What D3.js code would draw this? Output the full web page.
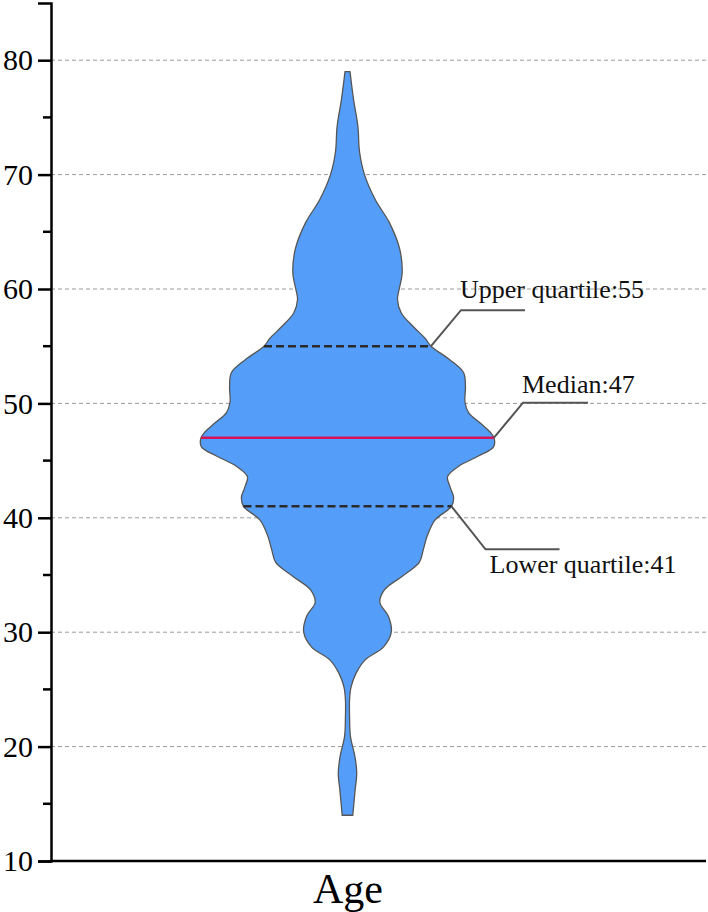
<!DOCTYPE html>
<html lang="en">
  <head>
    <meta charset="utf-8">
    <script type="text/javascript" src="https://d3js.org/d3.v7.min.js"></script>
    <style>
      body { margin: 0; background: white; }
      text { font-family: "Liberation Serif", "Times New Roman", serif; }
    </style>
  </head>
  <body>
    <script type="text/javascript">

    // Data: kernel density of age (relative, max = 1)
    var category = ["Age"];
    var ages = [79, 76.6, 74.2, 72, 70, 67.8, 65.8, 63.5, 61.4, 60, 59.1, 57.9, 56.7, 55.7, 55,
                53.8, 52.7, 51.5, 50.1, 49.2, 48.3, 47.5, 47, 46.2, 45.4, 44.5, 43.6, 42.7, 41.8, 41,
                39.8, 38.4, 37.2, 36.1, 34.9, 33.7, 32.6, 31.4, 30, 28.7, 27.6, 26.4, 25.2,
                24.1, 22.6, 20.9, 19.1, 17.7, 16.2, 14];
    var density = [0.017, 0.041, 0.071, 0.082, 0.116, 0.19, 0.286, 0.356, 0.373, 0.353, 0.341, 0.367, 0.45, 0.529, 0.57,
                   0.70, 0.792, 0.805, 0.802, 0.826, 0.904, 0.973, 1, 0.997, 0.894, 0.758, 0.683, 0.70, 0.724, 0.71,
                   0.597, 0.544, 0.517, 0.49, 0.374, 0.252, 0.221, 0.279, 0.299, 0.245, 0.122, 0.058, 0.024,
                   0.014, 0.014, 0.02, 0.051, 0.063, 0.052, 0.036];
    var statNames = ["Upper quartile", "Median", "Lower quartile"];
    var statValues = [55, 47, 41];
    var yTicks = [10, 20, 30, 40, 50, 60, 70, 80];
    var yMinorTicks = [15, 25, 35, 45, 55, 65, 75];

    // Sizes
    var svgW = 708, svgH = 912;
    var plotLeft = 51, plotRight = 706, plotTop = 3, plotBottom = 861;

    var svg = d3.select("body").append("svg")
                .attr("width", svgW)
                .attr("height", svgH);

    // Scales
    var yScale = d3.scaleLinear().domain([10, 85]).range([plotBottom, plotTop]);
    var xScale = d3.scalePoint().domain(category).range([plotLeft, 644]).padding(0.5);
    var wScale = d3.scaleLinear().domain([0, 1]).range([0, 146.5]);
    var cx = xScale("Age");

    // Grid lines
    svg.append("g")
        .selectAll("line")
        .data(yTicks.filter(function(t) { return t > 10; }))
        .join("line")
          .attr("x1", plotLeft).attr("x2", svgW)
          .attr("y1", function(d) { return yScale(d); })
          .attr("y2", function(d) { return yScale(d); })
          .attr("stroke", "#9a9a9a")
          .attr("stroke-width", 1)
          .attr("stroke-dasharray", "4,3");

    // Violin
    var points = ages.map(function(a, i) { return {age: a, dens: density[i]}; });
    var area = d3.area()
                 .y(function(d) { return yScale(d.age); })
                 .x0(function(d) { return cx - wScale(d.dens); })
                 .x1(function(d) { return cx + wScale(d.dens); })
                 .curve(d3.curveCatmullRom);
    svg.append("path")
        .datum(points)
        .attr("d", area)
        .attr("fill", "#549ef9")
        .attr("stroke", "#555")
        .attr("stroke-width", 1.3);

    // density at a value (linear between the read points)
    function densAt(v) {
      for (var i = 0; i < ages.length - 1; i++) {
        if (v <= ages[i] && v >= ages[i + 1]) {
          var t = (ages[i] - v) / (ages[i] - ages[i + 1]);
          return density[i] + t * (density[i + 1] - density[i]);
        }
      }
      return 0;
    }

    // Quartile and median lines
    statValues.forEach(function(v, i) {
      var w = wScale(densAt(v));
      var isMedian = statNames[i] === "Median";
      svg.append("line")
          .attr("x1", cx - w).attr("x2", cx + w)
          .attr("y1", yScale(v)).attr("y2", yScale(v))
          .attr("stroke", isMedian ? "#d4145a" : "#2b2b2b")
          .attr("stroke-width", 2.5)
          .attr("stroke-dasharray", isMedian ? null : "8,4");
    });

    // Annotations: elbow offsets, length of the flat part, text offset
    var notes = [
      {dx: 30, dy: -36, len: 64, tx: -1, ty: -12},
      {dx: 29, dy: -35, len: 65, tx: -1, ty: -10},
      {dx: 34, dy: 43, len: 74, tx: 4, ty: 24}
    ];
    statValues.forEach(function(v, i) {
      var n = notes[i];
      var x0 = cx + wScale(densAt(v)), y0 = yScale(v);
      var ex = x0 + n.dx, ey = y0 + n.dy;
      svg.append("polyline")
          .attr("points", [[x0, y0], [ex, ey], [ex + n.len, ey]].join(" "))
          .attr("fill", "none")
          .attr("stroke", "#555")
          .attr("stroke-width", 2);
      svg.append("text")
          .attr("x", ex + n.tx)
          .attr("y", ey + n.ty)
          .style("font-size", "26px")
          .attr("fill", "#111")
          .text(statNames[i] + ":" + v);
    });

    // Y axis
    var yAxis = svg.append("g")
        .attr("transform", "translate(" + plotLeft + ",0)")
        .call(d3.axisLeft(yScale).tickValues(yTicks).tickSize(13).tickPadding(5));
    yAxis.select(".domain").attr("stroke-width", 2.5);
    yAxis.selectAll(".tick line").attr("stroke-width", 2.5);
    yAxis.selectAll(".tick text")
        .style("font-size", "30px")
        .style("font-family", "'Liberation Serif', serif")
        .attr("fill", "#000");
    yAxis.selectAll(".minor")
        .data(yMinorTicks)
        .join("line")
          .attr("class", "minor")
          .attr("x1", -8).attr("x2", 0)
          .attr("y1", function(d) { return yScale(d); })
          .attr("y2", function(d) { return yScale(d); })
          .attr("stroke", "#000")
          .attr("stroke-width", 2.5);

    // X axis
    svg.append("line")
        .attr("x1", plotLeft - 1).attr("x2", plotRight)
        .attr("y1", plotBottom).attr("y2", plotBottom)
        .attr("stroke", "#000")
        .attr("stroke-width", 2.5);
    var xAxis = svg.append("g")
        .attr("transform", "translate(0," + plotBottom + ")")
        .call(d3.axisBottom(xScale).tickSize(0).tickPadding(12));
    xAxis.select(".domain").remove();
    xAxis.selectAll(".tick text")
        .style("font-size", "42px")
        .style("font-family", "'Liberation Serif', serif")
        .attr("fill", "#000");

    </script>
  </body>
</html>
